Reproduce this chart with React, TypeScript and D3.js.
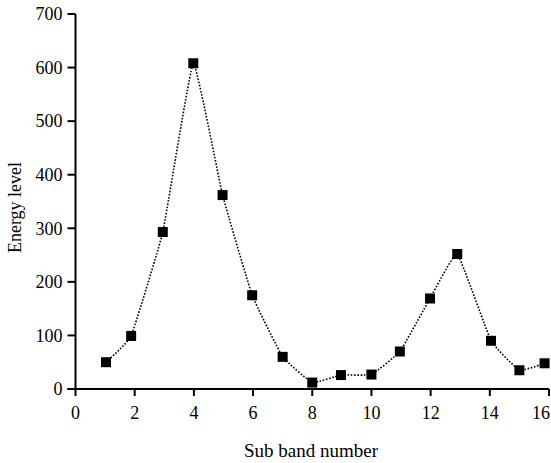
import React from "react";
import * as d3 from "d3";

const bandNumbers = [1.03, 1.88, 2.95, 3.98, 4.97, 5.97, 7.0, 8.0, 8.97, 10.0, 10.96, 11.98, 12.9, 14.04, 15.0, 15.85];
const energyLevels = [50, 99, 293, 608, 362, 175, 60, 12, 26, 27, 70, 169, 252, 90, 35, 48];
const xTicks = [0, 2, 4, 6, 8, 10, 12, 14, 16];
const yTicks = [0, 100, 200, 300, 400, 500, 600, 700];

const W = 551;
const H = 463;
const left = 75.5;
const right = 549;
const top = 14;
const bottom = 389;
const font = "'Liberation Serif', 'Times New Roman', serif";

export default function App() {
  const x = d3.scaleLinear().domain([0, 16]).range([left, right]);
  const y = d3.scaleLinear().domain([0, 700]).range([bottom, top]);
  const pts = bandNumbers.map((b, i) => [x(b), y(energyLevels[i])] as [number, number]);
  const line = d3.line().curve(d3.curveCardinal.tension(0.7))(pts) || "";
  return (
    <svg width={W} height={H} style={{ position: "absolute", left: 0, top: 0, background: "#fff" }}>
      <path d={line} fill="none" stroke="#000" strokeWidth={1.6} strokeDasharray="1.6 1.6" />
      {pts.map((p, i) => (
        <rect key={i} x={p[0] - 5} y={p[1] - 5} width={10} height={10} fill="#000" />
      ))}
      <line x1={left} x2={left} y1={top} y2={bottom} stroke="#000" strokeWidth={2} />
      <line x1={left - 8} x2={right} y1={bottom} y2={bottom} stroke="#000" strokeWidth={2} />
      {yTicks.map((t) => (
        <g key={"y" + t}>
          <line x1={left - 8} x2={left} y1={y(t)} y2={y(t)} stroke="#000" strokeWidth={2} />
          <text x={left - 13} y={y(t)} dy="0.35em" textAnchor="end" fontFamily={font} fontSize={18} fill="#000">
            {t}
          </text>
        </g>
      ))}
      {xTicks.map((t, i) => (
        <g key={"x" + t}>
          <line x1={x(t)} x2={x(t)} y1={bottom} y2={bottom + 7} stroke="#000" strokeWidth={2} />
          <text
            x={i === xTicks.length - 1 ? W - 1 : x(t)}
            y={419}
            textAnchor={i === xTicks.length - 1 ? "end" : "middle"}
            fontFamily={font}
            fontSize={18}
            fill="#000"
          >
            {t}
          </text>
        </g>
      ))}
      <text x={311} y={457} textAnchor="middle" fontFamily={font} fontSize={19} fill="#000">
        Sub band number
      </text>
      <text
        transform={`translate(21, ${(top + bottom) / 2 + 6}) rotate(-90)`}
        textAnchor="middle"
        fontFamily={font}
        fontSize={18}
        fill="#000"
      >
        Energy level
      </text>
    </svg>
  );
}
